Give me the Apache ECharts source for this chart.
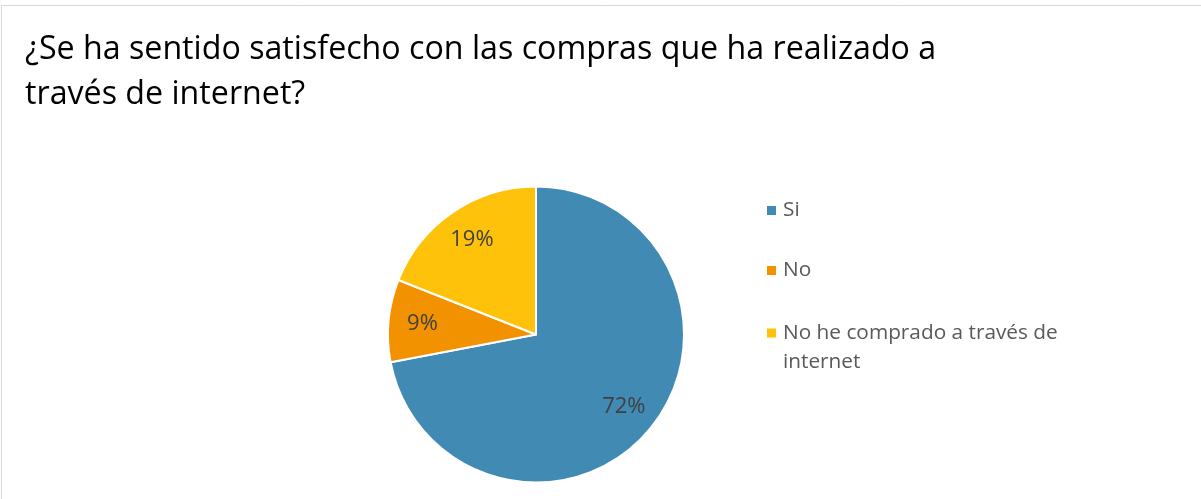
<!DOCTYPE html>
<html><head><meta charset="utf-8">
<script src="https://cdn.jsdelivr.net/npm/echarts@6/dist/echarts.min.js"></script>
<style>html,body{margin:0;padding:0;background:#fff}#c{width:1201px;height:499px}</style>
</head><body><div id="c"></div>
<script>
const titleText = '¿Se ha sentido satisfecho con las compras que ha realizado a\ntravés de internet?';
const categories = ['Si', 'No', 'No he comprado a través de internet'];
const values = [72, 9, 19];
const colors = ['#418AB3', '#F39200', '#FEC20A'];

const FONT = 'Open Sans';
const chart = echarts.init(document.getElementById('c'));
const data = categories.map((n, i) => ({ name: n, value: values[i] }));
const legendCommon = {
  orient: 'vertical', left: 762, itemWidth: 9, itemHeight: 9, itemGap: 31,
  selectedMode: false,
  itemStyle: { borderWidth: 0 },
  textStyle: { fontFamily: FONT, fontSize: 20.8, color: '#595959', lineHeight: 29, padding: [0,0,0,2] },
  formatter: n => n === categories[2] ? 'No he comprado a través de\ninternet' : n
};
chart.setOption({
  animation: false,
  color: colors,
  title: {
    text: titleText, left: 20, top: 22,
    textStyle: { fontFamily: FONT, fontSize: 32.2, fontWeight: 'normal', color: '#000', lineHeight: 45 }
  },
  graphic: [{ type: 'rect', shape: { x: 1.5, y: 5.5, width: 1300, height: 600 }, style: { fill: 'none', stroke: '#d9d9d9', lineWidth: 1 }, silent: true }],
  legend: [
    Object.assign({}, legendCommon, { top: 191, data: categories.slice(0, 2).map(n => ({ name: n, icon: 'rect' })) }),
    Object.assign({}, legendCommon, { top: 313.5, itemHeight: 38,
      data: [{ name: categories[2], icon: 'path://M0,0L9,0L9,9L0,9Z M0,38L0.001,38' }] })
  ],
  series: [
    {
      type: 'pie', center: [536, 334.5], radius: [0, 148], startAngle: 90, clockwise: true,
      data: data, silent: true,
      itemStyle: { borderColor: '#fff', borderWidth: 2 },
      label: { show: false }, labelLine: { show: false }
    },
    {
      type: 'pie', center: [536, 334.5], radius: [0, 222], startAngle: 90, clockwise: true,
      data: data, silent: true, legendHoverLink: false,
      itemStyle: { color: 'rgba(0,0,0,0)', borderWidth: 0 },
      label: { show: true, position: 'inside', formatter: p => p.value + '%',
        fontFamily: FONT, fontSize: 22, color: '#404040' },
      labelLine: { show: false }, z: 3
    }
  ]
});
</script></body></html>
